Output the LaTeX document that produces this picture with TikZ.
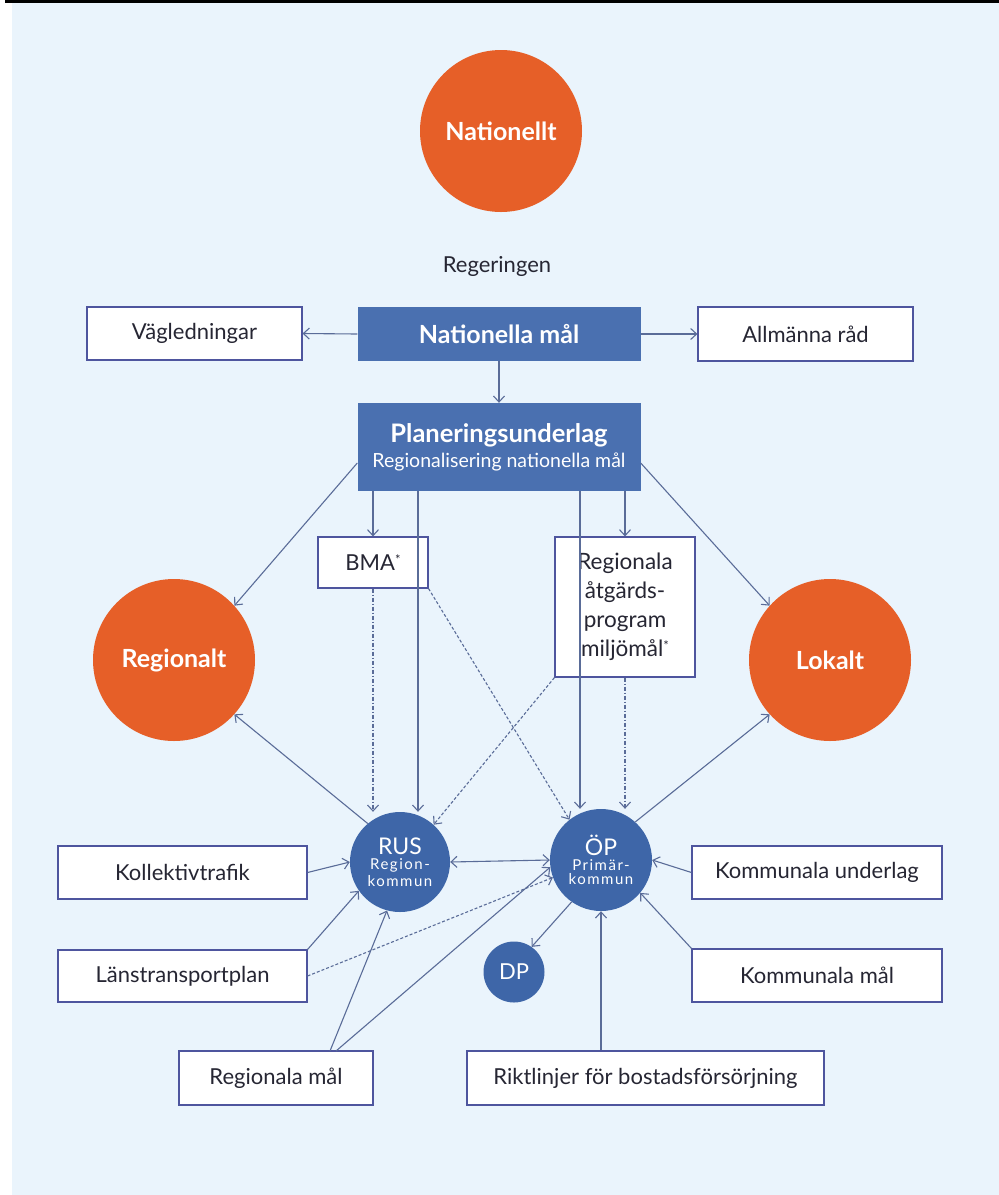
\documentclass[tikz,border=0pt]{standalone}
\usepackage{fontspec}
\setmainfont{Lato}
\newfontfamily\widelato[LetterSpace=10]{Lato}
\usetikzlibrary{arrows.meta}
\definecolor{bg}{HTML}{EAF4FC}
\definecolor{org}{HTML}{E65F28}
\definecolor{dblue}{HTML}{4A70B0}
\definecolor{cblue}{HTML}{3E66A8}
\definecolor{edge}{HTML}{4E559E}
\definecolor{ln}{HTML}{5A6C98}
\definecolor{txt}{HTML}{262633}
\newcommand{\bigf}{\fontsize{23}{24}\selectfont}
\newcommand{\smallf}{\widelato\fontsize{15}{17}\selectfont}
\begin{document}
\begin{tikzpicture}[x=1pt,y=-1pt,
  wbox/.style={draw=edge, line width=1.1pt, fill=white, inner sep=0pt, text=txt,
    font=\fontsize{22}{26}\selectfont},
  bbox/.style={fill=dblue, inner sep=0pt, text=white, align=center},
  ocirc/.style={circle, fill=org, inner sep=0pt, minimum size=162pt, text=white,
    font=\fontsize{25}{28}\selectfont\bfseries},
  bcirc/.style={circle, fill=cblue, inner sep=0pt, text=white, align=center},
  arr/.style={draw=ln, line width=1.1pt, -{Straight Barb[length=6pt,width=11pt]}},
  darr/.style={draw=ln, line width=1.1pt, {Straight Barb[length=6pt,width=11pt]}-{Straight Barb[length=6pt,width=11pt]}},
  dotarr/.style={arr, dash pattern=on 3pt off 2pt},
  dasharr/.style={arr, dash pattern=on 4pt off 2pt on 1pt off 2pt}]
\useasboundingbox (0,0) rectangle (999,1195);
\fill[white] (0,0) rectangle (999,1195);
\fill[bg] (12,3) rectangle (999,1195);
\fill[black] (5,0) rectangle (999,3);

% circles
\node[ocirc] (nat) at (501,131) {Nationellt};
\node[ocirc] (reg) at (174,660) {Regionalt};
\node[ocirc] (lok) at (830,660) {Lokalt};

\node[text=txt, font=\fontsize{22}{26}\selectfont] (regering) at (497,266) {Regeringen};

% top boxes
\node[wbox, minimum width=215pt, minimum height=53pt] (vag) at (194.5,333.5) {Vägledningar};
\node[bbox, minimum width=283pt, minimum height=54pt, font=\fontsize{25}{28}\selectfont\bfseries] (nm) at (499,334) {Nationella mål};
\node[wbox, minimum width=215pt, minimum height=54pt] (allm) at (805.5,334) {Allmänna råd};
\node[bbox, minimum width=283pt, minimum height=88pt] (plan) at (499,447)
  {\fontsize{25.5}{28}\selectfont\bfseries Planeringsunderlag\\[5pt]\fontsize{19.5}{22}\selectfont\mdseries Regionalisering nationella mål};

\node[wbox, minimum width=110pt, minimum height=51pt] (bma) at (373,562.5) {BMA{\fontsize{13}{13}\selectfont\raisebox{6pt}{*}}};
\node[wbox, minimum width=140pt, minimum height=140pt, align=center, font=\fontsize{22.5}{29}\selectfont] (rap) at (625,607)
  {Regionala\\åtgärds-\\program\\miljömål{\fontsize{13}{13}\selectfont\raisebox{6pt}{*}}};

% blue circles
\node[bcirc, minimum size=100pt] (rus) at (400,862)
  {\bigf RUS\\[3pt]\smallf Region-\\[2pt]\smallf kommun};
\node[bcirc, minimum size=102pt] (op) at (601,860)
  {\bigf ÖP\\[3pt]\smallf Primär-\\[2pt]\smallf kommun};
\node[bcirc, minimum size=61pt, font=\fontsize{22}{24}\selectfont] (dp) at (514,972) {DP};

% lower boxes
\node[wbox, minimum width=249pt, minimum height=53pt] (koll) at (182.5,872.5) {Kollektivtrafik};
\node[wbox, minimum width=249pt, minimum height=52pt] (lans) at (182.5,976) {Länstransportplan};
\node[wbox, minimum width=194pt, minimum height=54pt] (rmal) at (276,1078) {Regionala mål};
\node[wbox, minimum width=357pt, minimum height=54pt] (rikt) at (645.5,1078) {Riktlinjer för bostadsförsörjning};
\node[wbox, minimum width=250pt, minimum height=53pt] (kund) at (817,872.5) {Kommunala underlag};
\node[wbox, minimum width=250pt, minimum height=53pt] (kmal) at (817,975.5) {Kommunala mål};

% connectors top
\draw[arr] (nm.west) -- (vag.east);
\draw[arr] (nm.east) -- (allm.west);
\draw[arr] (nm.south) -- (plan.north);
\draw[arr] (plan.south -| bma.north) -- (bma.north);
\draw[arr] (plan.south -| rap.north) -- (rap.north);
\draw[arr] ([yshift=-16pt]plan.west) -- (reg.42);
\draw[arr] ([yshift=-16pt]plan.east) -- (lok.138);
\coordinate (p1) at (418,491);
\coordinate (p2) at (580,491);
\draw[arr] (p1) -- (p1 |- rus.north);
\draw[arr] (p2) -- (p2 |- op.north);
\draw[dasharr] (bma.south) -- (bma.south |- rus.north);
\draw[dasharr] (rap.south) -- (rap.south |- op.north);
\draw[dotarr] (bma.south east) -- (op.128);
\draw[dotarr] (rap.south west) -- (rus.48);

% connectors middle
\draw[arr] (rus.130) -- (reg.-42);
\draw[arr] (op.48) -- (lok.-138);
\draw[darr] (rus.east) -- (op.west);
\draw[arr] (op.-125) -- (dp.55);

% connectors lower
\draw[arr] (koll.east) -- (rus.west);
\draw[arr] (lans.north east) -- (rus.-145);
\draw[dotarr] (lans.east) -- (op.-160);
\coordinate (rm1) at (330,1051);
\coordinate (rm2) at (336,1051);
\draw[arr] (rm1) -- (rus.-105);
\draw[arr] (rm2) -- (op.-172);
\draw[arr] (rikt.north -| op.south) -- (op.south);
\draw[arr] (kund.west) -- (op.east);
\draw[arr] (kmal.north west) -- (op.-40);
\end{tikzpicture}
\end{document}
